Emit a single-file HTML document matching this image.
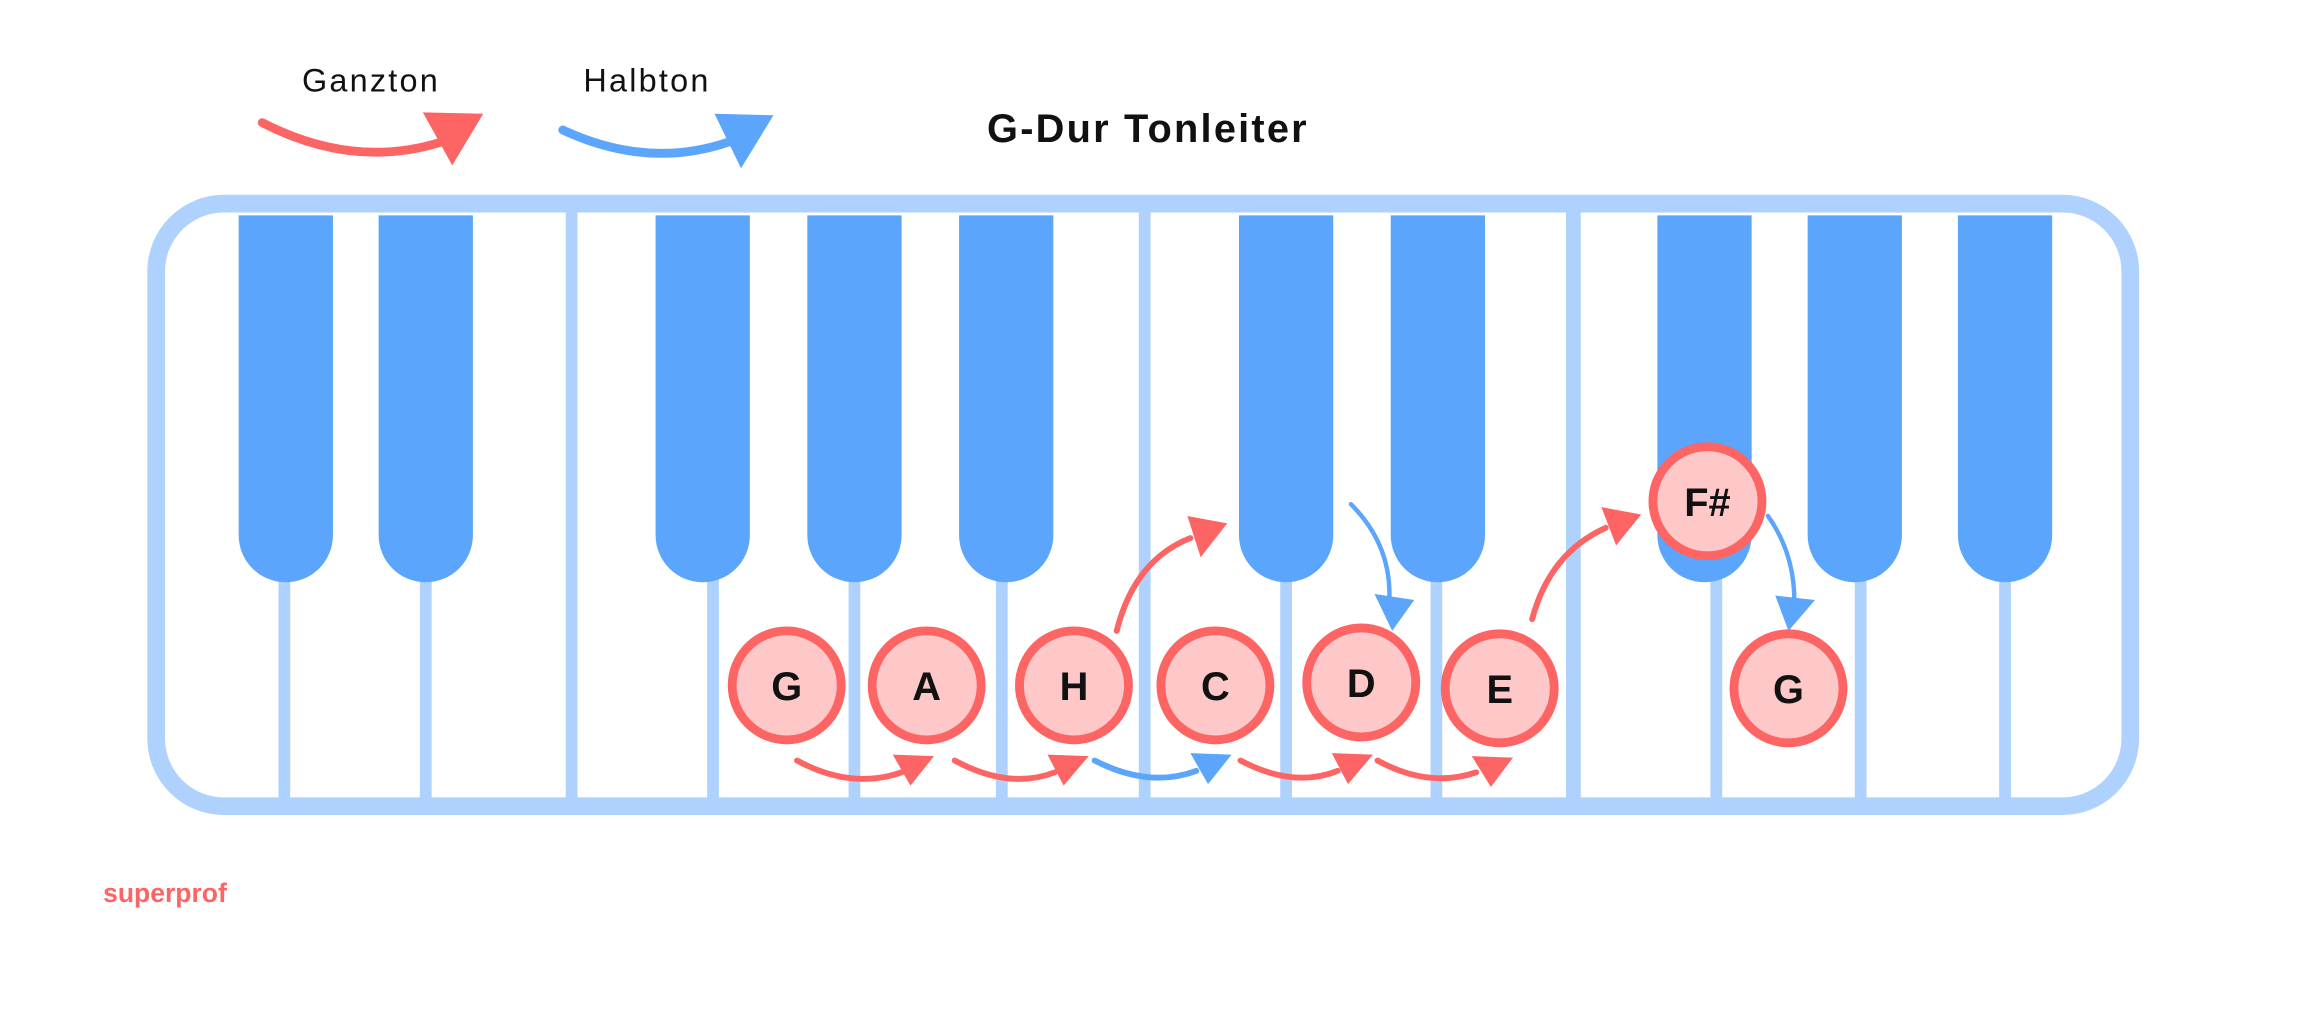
<!DOCTYPE html>
<html><head><style>html,body{margin:0;padding:0;background:#fff}svg{display:block}</style></head>
<body>
<svg width="2310" height="1029" viewBox="0 0 1568 698" xmlns="http://www.w3.org/2000/svg">
<rect width="1568" height="698" fill="#fff"/>
<text x="205" y="62" font-family="Liberation Sans, sans-serif" font-size="22" letter-spacing="1.5" fill="#111">Ganzton</text>
<text x="396" y="62" font-family="Liberation Sans, sans-serif" font-size="22" letter-spacing="1.5" fill="#111">Halbton</text>
<text x="670" y="96" font-family="Liberation Sans, sans-serif" font-size="27" letter-spacing="1.5" font-weight="bold" fill="#111">G-Dur Tonleiter</text>
<text x="70" y="612" font-family="Liberation Sans, sans-serif" font-size="18" font-weight="bold" fill="#fd6464">superprof</text>
<g fill="none" stroke-linecap="round" stroke-width="5">
<path d="M178,83 Q240,115 300,96" stroke="#fd6464" stroke-width="6"/>
<path d="M382,88 Q440,115 495,96" stroke="#5ba5fc" stroke-width="6"/>
</g>
<polygon points="287,76 328,77 307,112" fill="#fd6464"/>
<polygon points="485,77 525,78 503,114" fill="#5ba5fc"/>
<rect x="106" y="138" width="1340" height="409" rx="46" fill="#fff" stroke="#aed2fd" stroke-width="12"/>
<g fill="#aed2fd">
<rect x="384" y="144" width="8" height="400"/>
<rect x="773" y="144" width="8" height="400"/>
<rect x="1063" y="144" width="10" height="400"/>
<rect x="189" y="390" width="8" height="154"/>
<rect x="285" y="390" width="8" height="154"/>
<rect x="480" y="390" width="8" height="154"/>
<rect x="576" y="390" width="8" height="154"/>
<rect x="676" y="390" width="8" height="154"/>
<rect x="869" y="390" width="8" height="154"/>
<rect x="971" y="390" width="8" height="154"/>
<rect x="1161" y="390" width="8" height="154"/>
<rect x="1259" y="390" width="8" height="154"/>
<rect x="1357" y="390" width="8" height="154"/>
</g>
<g fill="#5ba5fc">
<path d="M162,146 h64 v217 a32,32 0 0 1 -64,0 z"/>
<path d="M257,146 h64 v217 a32,32 0 0 1 -64,0 z"/>
<path d="M445,146 h64 v217 a32,32 0 0 1 -64,0 z"/>
<path d="M548,146 h64 v217 a32,32 0 0 1 -64,0 z"/>
<path d="M651,146 h64 v217 a32,32 0 0 1 -64,0 z"/>
<path d="M841,146 h64 v217 a32,32 0 0 1 -64,0 z"/>
<path d="M944,146 h64 v217 a32,32 0 0 1 -64,0 z"/>
<path d="M1125,146 h64 v217 a32,32 0 0 1 -64,0 z"/>
<path d="M1227,146 h64 v217 a32,32 0 0 1 -64,0 z"/>
<path d="M1329,146 h64 v217 a32,32 0 0 1 -64,0 z"/>
</g>
<g fill="none" stroke-linecap="round" stroke-width="4">
<path d="M541,516 Q578,536 612,524" stroke="#fd6464"/>
<path d="M648,516 Q685,536 716,524" stroke="#fd6464"/>
<path d="M743,516 Q780,535 812,523" stroke="#5ba5fc"/>
<path d="M842,516 Q878,535 908,523" stroke="#fd6464"/>
<path d="M935,516 Q970,535 1002,524" stroke="#fd6464"/>
<path d="M758,428 Q770,380 808,365" stroke="#fd6464"/>
<path d="M1040,420 Q1052,375 1090,358" stroke="#fd6464"/>
<path d="M917,342 Q945,370 943,408" stroke="#5ba5fc" stroke-width="3"/>
<path d="M1200,350 Q1218,375 1218,408" stroke="#5ba5fc" stroke-width="3"/>
</g>
<polygon points="606,512 634,513 618,533" fill="#fd6464"/>
<polygon points="711,512 739,513 722,533" fill="#fd6464"/>
<polygon points="808,511 836,512 820,532" fill="#5ba5fc"/>
<polygon points="904,511 932,512 915,532" fill="#fd6464"/>
<polygon points="999,513 1027,514 1012,534" fill="#fd6464"/>
<polygon points="806,350 833,355 815,378" fill="#fd6464"/>
<polygon points="1087,344 1114,349 1097,370" fill="#fd6464"/>
<polygon points="933,403 960,407 945,428" fill="#5ba5fc"/>
<polygon points="1205,404 1232,407 1214,428" fill="#5ba5fc"/>
<g fill="#fec8c8" stroke="#fd6464" stroke-width="6">
<circle cx="534" cy="465" r="37"/>
<circle cx="629" cy="465" r="37"/>
<circle cx="729" cy="465" r="37"/>
<circle cx="825" cy="465" r="37"/>
<circle cx="924" cy="463" r="37"/>
<circle cx="1018" cy="467" r="37"/>
<circle cx="1159" cy="340" r="37"/>
<circle cx="1214" cy="467" r="37"/>
</g>
<g font-family="Liberation Sans, sans-serif" font-size="27" font-weight="bold" fill="#111" text-anchor="middle">
<text x="534" y="475">G</text>
<text x="629" y="475">A</text>
<text x="729" y="475">H</text>
<text x="825" y="475">C</text>
<text x="924" y="473">D</text>
<text x="1018" y="477">E</text>
<text x="1159" y="350">F#</text>
<text x="1214" y="477">G</text>
</g>
</svg>
</body></html>
